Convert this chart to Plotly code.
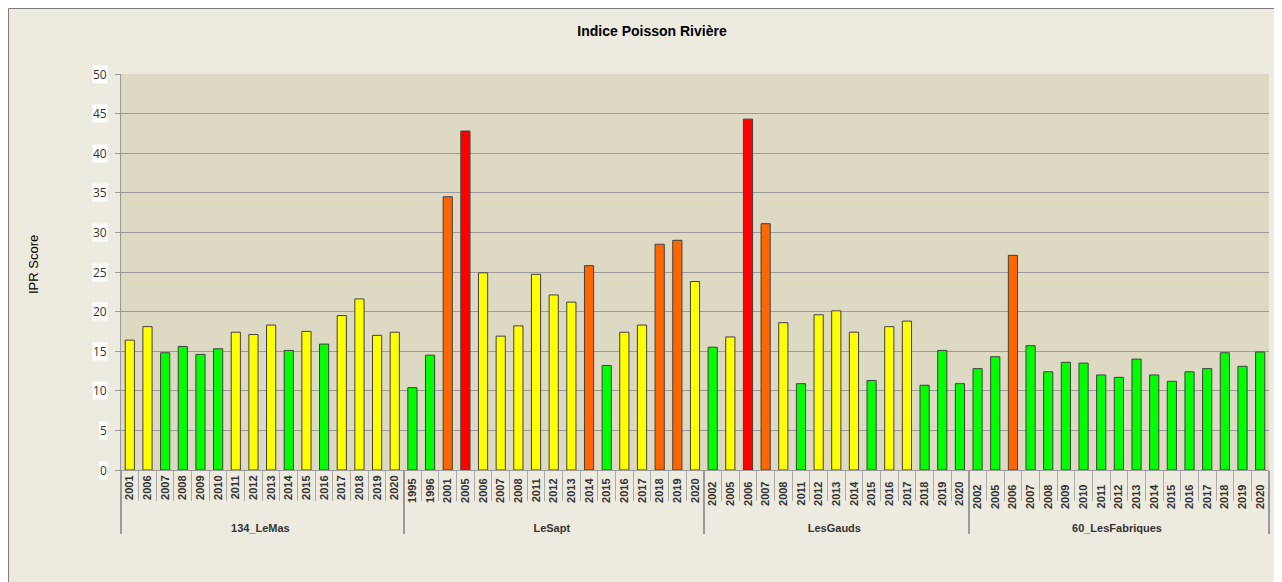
import plotly.graph_objects as go

# ---- data ----
station_lemas = "134_LeMas"
years_lemas = ["2001", "2006", "2007", "2008", "2009", "2010", "2011", "2012",
               "2013", "2014", "2015", "2016", "2017", "2018", "2019", "2020"]
ipr_lemas = [16.4, 18.1, 14.8, 15.6, 14.6, 15.3, 17.4, 17.1,
             18.3, 15.1, 17.5, 15.9, 19.5, 21.6, 17.0, 17.4]

station_lesapt = "LeSapt"
years_lesapt = ["1995", "1996", "2001", "2005", "2006", "2007", "2008", "2011",
                "2012", "2013", "2014", "2015", "2016", "2017", "2018", "2019", "2020"]
ipr_lesapt = [10.4, 14.5, 34.5, 42.8, 24.9, 16.9, 18.2, 24.7,
              22.1, 21.2, 25.8, 13.2, 17.4, 18.3, 28.5, 29.0, 23.8]

station_lesgauds = "LesGauds"
years_lesgauds = ["2002", "2005", "2006", "2007", "2008", "2011", "2012", "2013",
                  "2014", "2015", "2016", "2017", "2018", "2019", "2020"]
ipr_lesgauds = [15.5, 16.8, 44.3, 31.1, 18.6, 10.9, 19.6, 20.1,
                17.4, 11.3, 18.1, 18.8, 10.7, 15.1, 10.9]

station_fab = "60_LesFabriques"
years_fab = ["2002", "2005", "2006", "2007", "2008", "2009", "2010", "2011",
             "2012", "2013", "2014", "2015", "2016", "2017", "2018", "2019", "2020"]
ipr_fab = [12.8, 14.3, 27.1, 15.7, 12.4, 13.6, 13.5, 12.0,
           11.7, 14.0, 12.0, 11.2, 12.4, 12.8, 14.8, 13.1, 14.9]

y_ticks = [0, 5, 10, 15, 20, 25, 30, 35, 40, 45, 50]

# IPR quality classes (upper bounds) and colours
class_bounds = [16, 25, 36]
class_colors = ["#00FF00", "#FFFF00", "#FF6600", "#FF0000"]


def ipr_color(v):
    for b, c in zip(class_bounds, class_colors):
        if v <= b:
            return c
    return class_colors[-1]


stations = []
years = []
values = []
for k, (st, yrs, vals) in enumerate([(station_lemas, years_lemas, ipr_lemas),
                                     (station_lesapt, years_lesapt, ipr_lesapt),
                                     (station_lesgauds, years_lesgauds, ipr_lesgauds),
                                     (station_fab, years_fab, ipr_fab)]):
    stations += [st] * len(yrs)
    # trailing (invisible) spaces keep each station's years as distinct
    # categories so plotly keeps the original within-group order
    years += [y + " " * k for y in yrs]
    values += vals

colors = [ipr_color(v) for v in values]

W, H = 1282, 582
ML, MR, MT, MB = 113, 21, 66, 120
PW = W - ML - MR
PH = H - MT - MB


def px_x(p):
    return (p - ML) / PW


def px_y(p):
    return (H - MB - p) / PH


fig = go.Figure(go.Bar(
    x=[stations, years],
    y=values,
    marker=dict(color=colors, line=dict(color="#404040", width=1)),
    hovertemplate="%{x}: %{y}<extra></extra>",
))

narrow = "Liberation Sans Narrow, Arial Narrow, Liberation Sans, Arial, sans-serif"

# y tick labels drawn as annotations so they can carry the white label boxes
ytick_annotations = [
    dict(text=str(t), x=0, xref="paper", y=t, yref="y", xanchor="right",
         yanchor="middle", xshift=-13, showarrow=False, bgcolor="#FFFFFF",
         borderpad=0,
         font=dict(family="Open Sans, Arial, sans-serif", size=12, color="#333333"))
    for t in y_ticks
]

fig.update_layout(
    width=W, height=H,
    margin=dict(l=ML, r=MR, t=MT, b=MB, pad=0),
    paper_bgcolor="#EDEAE0",
    plot_bgcolor="#DDD9C3",
    bargap=0.48,
    showlegend=False,
    title=dict(text="<b>Indice Poisson Rivière</b>", x=644 / W, xref="container",
               xanchor="center", y=1 - 23 / H, yref="container", yanchor="middle",
               font=dict(family="Liberation Sans Narrow, Arial Narrow, Arial, sans-serif",
                         size=14, color="#000000")),
    yaxis=dict(range=[0, 50], tickvals=y_ticks, showgrid=True, gridcolor="#9A9A9A",
               gridwidth=1, showline=True, linecolor="#9A9A9A", linewidth=1,
               ticks="outside", ticklen=5, tickcolor="#9A9A9A",
               showticklabels=False, zeroline=False),
    xaxis=dict(type="multicategory", showline=True, linecolor="#9A9A9A", linewidth=1,
               ticks="outside", ticklen=30, tickcolor="#ABABAB",
               tickangle=-90,
               tickfont=dict(family=narrow, size=11, color="#333333", weight="bold"),
               showdividers=True, dividercolor="#9A9A9A", dividerwidth=1.5),
    annotations=ytick_annotations + [
        dict(text="IPR Score", textangle=-90, x=px_x(25), y=px_y(257),
             xref="paper", yref="paper", showarrow=False,
             xanchor="center", yanchor="middle",
             font=dict(family="Liberation Sans, Arial, sans-serif", size=13,
                       color="#000000"))],
    shapes=[
        # chart frame
        dict(type="rect", xref="paper", yref="paper", x0=px_x(0.5), x1=px_x(W - 0.5),
             y0=px_y(H - 0.5), y1=px_y(0.5), line=dict(color="#7F7F7F", width=1),
             layer="below"),
    ],
)

fig.write_html("out.html")
